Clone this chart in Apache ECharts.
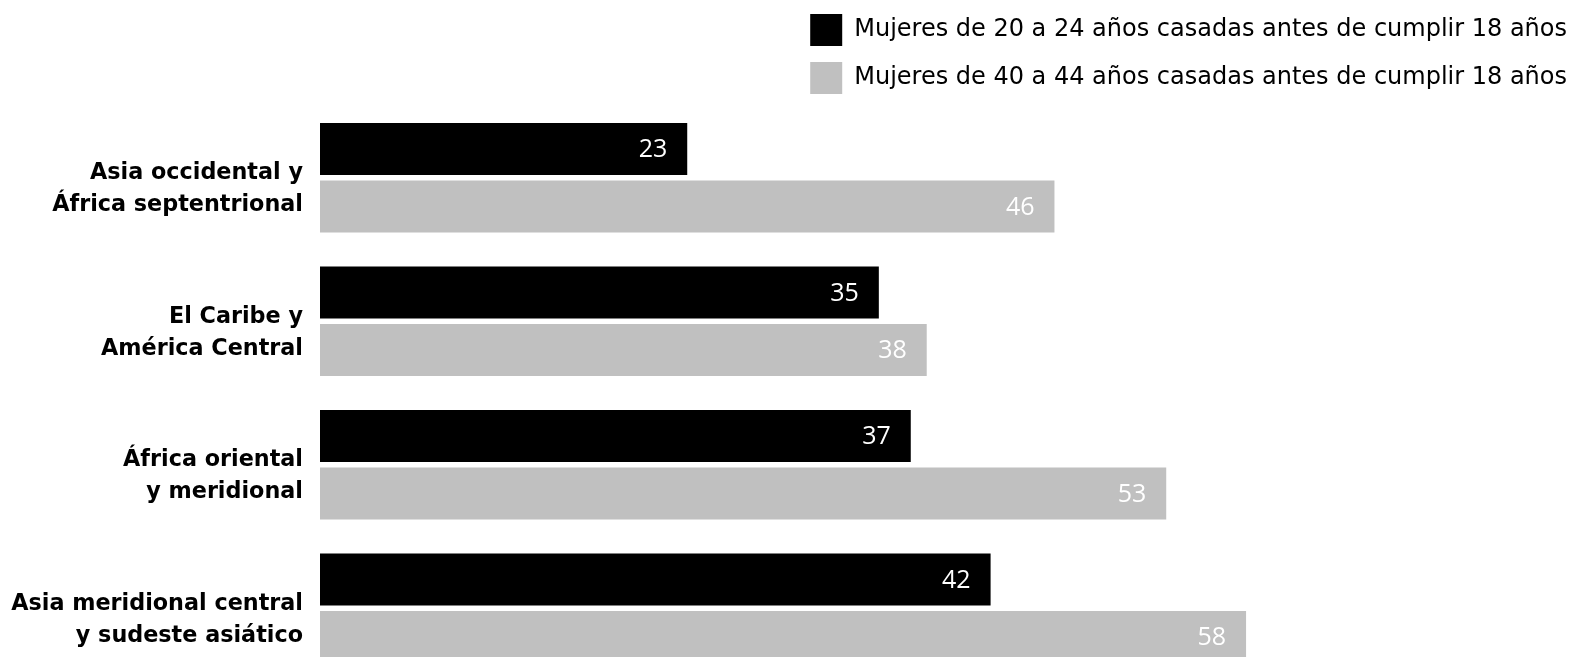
<!DOCTYPE html>
<html><head><meta charset="utf-8">
<script src="https://cdn.jsdelivr.net/npm/echarts@6/dist/echarts.min.js"></script>
<style>html,body{margin:0;padding:0;background:#fff}#c{width:1578px;height:657px}</style>
</head><body><div id="c"></div>
<script>
const categories = ["Asia occidental y\nÁfrica septentrional", "El Caribe y\nAmérica Central", "África oriental\ny meridional", "Asia meridional central\ny sudeste asiático"];
const seriesNames = ["Mujeres de 20 a 24 años casadas antes de cumplir 18 años", "Mujeres de 40 a 44 años casadas antes de cumplir 18 años"];
const young = [23, 35, 37, 42];
const older = [46, 38, 53, 58];

const chart = echarts.init(document.getElementById('c'), null, {renderer: 'canvas'});
const font = '"Open Sans", sans-serif';
const dfont = '"DejaVu Sans", sans-serif';
const lbl = {show: true, position: 'insideRight', distance: 20, color: '#fff', fontSize: 25, fontFamily: font, offset: [0, 1]};
chart.setOption({
  animation: false,
  backgroundColor: '#fff',
  legend: {
    orient: 'vertical', right: 6, top: 9, itemWidth: 32, itemHeight: 32, itemGap: 16,
    icon: 'rect',
    textStyle: {fontSize: 24, color: '#000', fontFamily: dfont, padding: [0,0,0,7]},
    data: seriesNames
  },
  grid: {left: 320, top: 106, width: 958, height: 574, containLabel: false, outerBoundsMode: 'none'},
  xAxis: {type: 'value', min: 0, max: 60, show: false},
  yAxis: {
    type: 'category', inverse: true, data: categories,
    axisLine: {show: false}, axisTick: {show: false},
    axisLabel: {
      color: '#000', margin: 17, align: 'right',
      formatter: v => '{s| }\n' + v.split('\n').map(t => '{a|' + t + '}').join('\n'),
      rich: {
        s: {fontSize: 4, lineHeight: 23},
        a: {fontSize: 22.3, fontWeight: 'bold', fontFamily: dfont, lineHeight: 32, color: '#000', align: 'right'}
      }
    }
  },
  series: [
    {name: seriesNames[0], type: 'bar', data: young, barWidth: 52, barGap: '10.5%', itemStyle: {color: '#000'}, label: lbl},
    {name: seriesNames[1], type: 'bar', data: older, barWidth: 52, itemStyle: {color: '#c0c0c0'}, label: lbl}
  ]
});
</script></body></html>
